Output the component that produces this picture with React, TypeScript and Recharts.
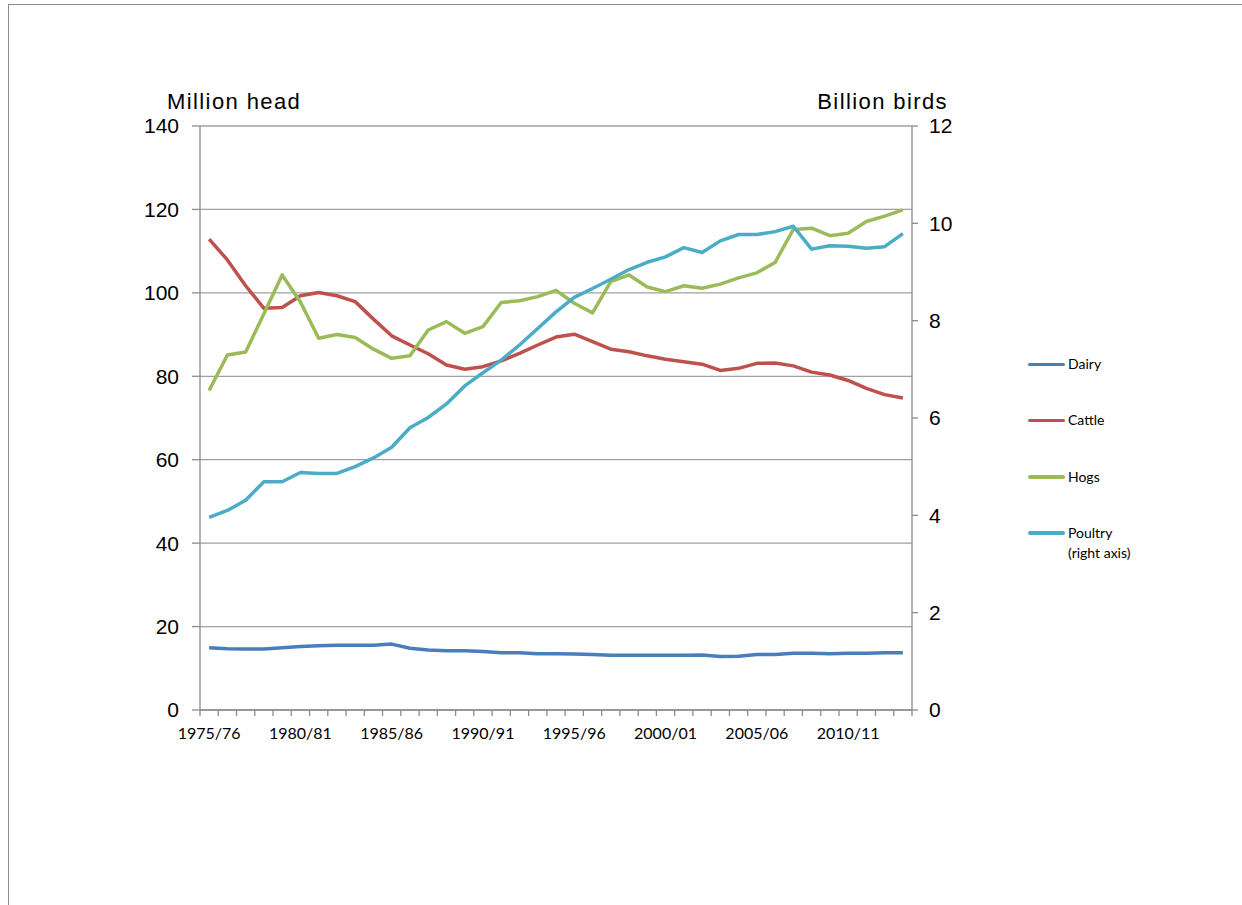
import React from 'react';
import { LineChart, Line, XAxis, YAxis, CartesianGrid, Legend } from 'recharts';

const SEASONS = [
  '1975/76', '1976/77', '1977/78', '1978/79', '1979/80', '1980/81', '1981/82', '1982/83',
  '1983/84', '1984/85', '1985/86', '1986/87', '1987/88', '1988/89', '1989/90', '1990/91',
  '1991/92', '1992/93', '1993/94', '1994/95', '1995/96', '1996/97', '1997/98', '1998/99',
  '1999/00', '2000/01', '2001/02', '2002/03', '2003/04', '2004/05', '2005/06', '2006/07',
  '2007/08', '2008/09', '2009/10', '2010/11', '2011/12', '2012/13', '2013/14',
];

const LABELED_SEASONS = ['1975/76', '1980/81', '1985/86', '1990/91', '1995/96', '2000/01', '2005/06', '2010/11'];

// million head
const DAIRY = [
  14.9, 14.7, 14.6, 14.6, 14.9, 15.2, 15.4, 15.5, 15.5, 15.5, 15.8, 14.8, 14.4,
  14.2, 14.2, 14.0, 13.7, 13.7, 13.5, 13.5, 13.4, 13.3, 13.1, 13.1, 13.1, 13.1,
  13.1, 13.2, 12.8, 12.9, 13.3, 13.3, 13.6, 13.6, 13.5, 13.6, 13.6, 13.7, 13.7,
];
const CATTLE = [
  112.9, 107.9, 101.7, 96.3, 96.5, 99.3, 100.1, 99.3, 97.9, 93.7, 89.7, 87.5, 85.4,
  82.7, 81.7, 82.3, 83.7, 85.5, 87.5, 89.4, 90.1, 88.3, 86.5, 85.9, 84.9, 84.1,
  83.5, 82.9, 81.4, 81.9, 83.1, 83.2, 82.5, 81.0, 80.3, 79.0, 77.1, 75.6, 74.8,
];
const HOGS = [
  76.6, 85.1, 85.8, 95.0, 104.3, 97.8, 89.1, 90.0, 89.3, 86.5, 84.3, 84.9, 91.1,
  93.1, 90.3, 91.9, 97.7, 98.1, 99.1, 100.6, 97.5, 95.2, 102.7, 104.3, 101.4, 100.3,
  101.7, 101.1, 102.1, 103.6, 104.8, 107.3, 115.2, 115.5, 113.7, 114.3, 117.1, 118.4, 119.9,
];
// billion birds
const POULTRY = [
  3.96, 4.10, 4.31, 4.69, 4.69, 4.88, 4.86, 4.86, 5.00, 5.18, 5.40, 5.80, 6.01,
  6.29, 6.66, 6.93, 7.19, 7.50, 7.84, 8.18, 8.48, 8.66, 8.85, 9.05, 9.20, 9.31,
  9.50, 9.40, 9.64, 9.77, 9.77, 9.83, 9.94, 9.47, 9.54, 9.53, 9.49, 9.52, 9.79,
];

const LEFT_TICKS = [0, 20, 40, 60, 80, 100, 120, 140];
const RIGHT_TICKS = [0, 2, 4, 6, 8, 10, 12];

const SERIES = [
  { key: 'dairy', name: 'Dairy', color: '#4a7ebb', axis: 'left' },
  { key: 'cattle', name: 'Cattle', color: '#c0504d', axis: 'left' },
  { key: 'hogs', name: 'Hogs', color: '#9bbb59', axis: 'left' },
  { key: 'poultry', name: 'Poultry', note: '(right axis)', color: '#4bacc6', axis: 'right' },
];

const data = SEASONS.map((season, i) => ({
  idx: i,
  season,
  dairy: DAIRY[i],
  cattle: CATTLE[i],
  hogs: HOGS[i],
  poultry: POULTRY[i],
}));

// tick marks sit between categories, labels sit on the categories
const boundaryTicks = [...SEASONS.map((_, i) => i - 0.5), SEASONS.length - 0.5];
const labelTicks = LABELED_SEASONS.map(s => SEASONS.indexOf(s));
const xDomain = [-0.5, SEASONS.length - 0.5];

const AXIS_GREY = '#8c8c8c';
const numTick = { fill: '#000', fontSize: 21, fontFamily: 'Liberation Sans, Arial, sans-serif' };
const titleStyle = { fontSize: 22, fontFamily: 'Liberation Sans, Arial, sans-serif', letterSpacing: 1.4, fill: '#000' };

const LegendBox = () => (
  <div style={{ position: 'relative', width: 200, height: 200, fontFamily: 'Lato, sans-serif', fontSize: 14, color: '#000' }}>
    {SERIES.map((s, i) => (
      <div key={s.key} style={{ position: 'absolute', left: 0, top: i * 56.3, height: 20 }}>
        <div style={{ position: 'absolute', left: 0, top: 8.5, width: 37, height: 3.5, background: s.color, borderRadius: 2 }} />
        <div style={{ position: 'absolute', left: 40, top: 0, lineHeight: '20px', whiteSpace: 'nowrap' }}>
          {s.name}
          {s.note && <br />}
          {s.note}
        </div>
      </div>
    ))}
  </div>
);

const EmptyTick = () => <g />;

export default function App() {
  return (
    <div
      style={{
        position: 'absolute',
        left: 8,
        top: 4,
        width: 1234,
        height: 901,
        borderTop: '1.5px solid #8c8c8c',
        borderLeft: '1.5px solid #8c8c8c',
      }}
    >
      <LineChart width={1233} height={900} data={data} margin={{ top: 121, left: 131, right: 270, bottom: 155 }}>
        <CartesianGrid yAxisId="left" vertical={false} stroke="#a0a0a0" strokeWidth={1.3} />
        <XAxis
          dataKey="idx"
          type="number"
          domain={xDomain}
          ticks={boundaryTicks}
          interval={0}
          height={1}
          tick={<EmptyTick />}
          tickLine={{ stroke: AXIS_GREY, strokeWidth: 1.3 }}
          tickSize={6}
          stroke={AXIS_GREY}
          strokeWidth={1.3}
        />
        <XAxis
          xAxisId="labels"
          dataKey="idx"
          type="number"
          domain={xDomain}
          ticks={labelTicks}
          interval={0}
          height={39}
          axisLine={false}
          tickLine={false}
          tickSize={5}
          tickMargin={12}
          tickFormatter={(v: number) => SEASONS[v]}
          tick={{ fill: '#000', fontSize: 16, fontFamily: 'Lato, sans-serif' }}
        />
        <YAxis
          yAxisId="left"
          domain={[0, 140]}
          ticks={LEFT_TICKS}
          interval={0}
          width={60}
          tickSize={8}
          tickMargin={13}
          tick={numTick}
          stroke={AXIS_GREY}
          strokeWidth={1.3}
          label={{
            content: (p: any) => (
              <text x={p.viewBox.x + p.viewBox.width - 33} y={p.viewBox.y - 17} style={titleStyle} textAnchor="start">
                Million head
              </text>
            ),
          }}
        />
        <YAxis
          yAxisId="right"
          orientation="right"
          domain={[0, 12]}
          ticks={RIGHT_TICKS}
          interval={0}
          width={60}
          tickSize={6}
          tickMargin={11}
          tick={numTick}
          stroke={AXIS_GREY}
          strokeWidth={1.3}
          label={{
            content: (p: any) => (
              <text x={p.viewBox.x + 36} y={p.viewBox.y - 17} style={titleStyle} textAnchor="end">
                Billion birds
              </text>
            ),
          }}
        />
        {SERIES.map(s => (
          <Line
            key={s.key}
            yAxisId={s.axis}
            dataKey={s.key}
            name={s.name}
            type="linear"
            stroke={s.color}
            strokeWidth={3.5}
            strokeLinejoin="round"
            dot={false}
            activeDot={false}
            isAnimationActive={false}
          />
        ))}
        <Legend
          layout="vertical"
          align="center"
          verticalAlign="middle"
          content={() => <LegendBox />}
          wrapperStyle={{ left: 1019, top: 349, width: 200 }}
        />
      </LineChart>
    </div>
  );
}
